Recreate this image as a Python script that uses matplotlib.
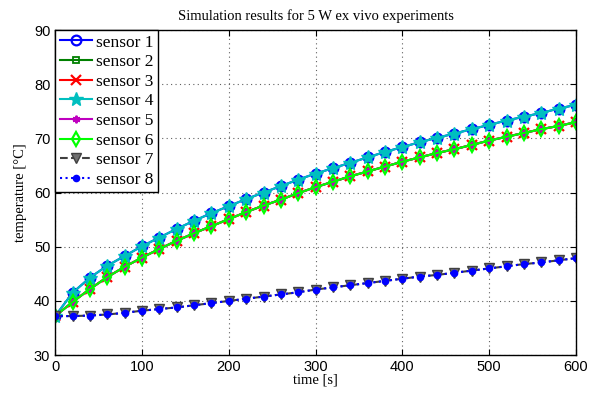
import matplotlib

matplotlib.use("Agg")
import matplotlib.pyplot as plt

time_s = list(range(0, 601, 20))

# upper pair (sensors 1 and 4)
upper = [37.2, 41.5, 44.3, 46.5, 48.3, 50.1, 51.7, 53.3, 54.8, 56.2, 57.5,
         58.8, 60.0, 61.2, 62.4, 63.5, 64.5, 65.5, 66.5, 67.5, 68.4,
         69.3, 70.1, 70.9, 71.7, 72.5, 73.3, 74.0, 74.7, 75.5, 76.2]
# middle group (sensors 2, 3, 5, 6)
middle = [37.2, 39.8, 42.2, 44.4, 46.3, 48.0, 49.6, 51.1, 52.5, 53.8, 55.1,
          56.4, 57.6, 58.7, 59.9, 61.0, 62.0, 63.0, 63.9, 64.8, 65.7,
          66.5, 67.3, 68.0, 68.8, 69.6, 70.3, 71.0, 71.7, 72.3, 73.0]
# lower pair (sensors 7 and 8)
lower = [37.2, 37.2, 37.3, 37.5, 37.8, 38.2, 38.5, 38.8, 39.2, 39.6, 40.0,
         40.4, 40.8, 41.2, 41.6, 42.1, 42.5, 42.9, 43.3, 43.7, 44.1,
         44.5, 44.8, 45.2, 45.6, 46.0, 46.4, 46.8, 47.1, 47.5, 47.9]

sensors = {
    "sensor 1": upper,
    "sensor 2": middle,
    "sensor 3": middle,
    "sensor 4": upper,
    "sensor 5": middle,
    "sensor 6": middle,
    "sensor 7": lower,
    "sensor 8": lower,
}

styles = {
    "sensor 1": dict(color="#0000ff", marker="o", ls="-", mfc="none", ms=7, mew=1.6),
    "sensor 2": dict(color="#008000", marker="s", ls="-", mfc="none", ms=5, mew=1.3),
    "sensor 3": dict(color="#ff0000", marker="x", ls="-", ms=6.5, mew=1.6),
    "sensor 4": dict(color="#00bfbf", marker="*", ls="-", ms=10, mew=1.0),
    "sensor 5": dict(color="#bf00bf", marker=(6, 2, 0), ls="-", ms=5.5, mew=1.4),
    "sensor 6": dict(color="#00ff00", marker="d", ls="-", mfc="none", ms=7, mew=1.6),
    "sensor 7": dict(color="#404040", marker="v", ls="--", mfc="#707070", mec="#404040", ms=7.5, mew=1.0),
    "sensor 8": dict(color="#0000ff", marker="o", ls=":", ms=5.5, mew=0),
}

fig = plt.figure(figsize=(6, 3.95), dpi=100)
ax = fig.add_axes([0.092, 0.101, 0.868, 0.823])

for name, vals in sensors.items():
    st = styles[name]
    ax.plot(time_s, vals, label=name, lw=1.5, **st)

ax.set_xlim(0, 600)
ax.set_ylim(30, 90)
ax.set_xticks(range(0, 601, 100))
ax.set_yticks(range(30, 91, 10))
ax.grid(True, ls=(0, (1, 3)), color="#606060", lw=0.8)
ax.tick_params(direction="in", top=True, right=True, length=4, labelsize=10.5)
for lab in ax.get_xticklabels() + ax.get_yticklabels():
    lab.set_fontfamily("Liberation Sans")
for s in ax.spines.values():
    s.set_linewidth(1.0)

serif = "Liberation Serif"
ax.set_xlabel("time [s]", fontfamily=serif, fontsize=10.5, labelpad=0)
ax.set_ylabel("temperature [°C]", fontfamily=serif, fontsize=10.5, labelpad=5)
ax.set_title("Simulation results for 5 W ex vivo experiments", fontfamily=serif, fontsize=10.5, pad=7)

leg = ax.legend(loc="upper left", prop={"family": serif, "size": 12.5}, fancybox=False,
                framealpha=1, edgecolor="black", borderaxespad=0.0, handlelength=1.85,
                labelspacing=0.2, borderpad=0.25, handletextpad=0.25)
leg.get_frame().set_linewidth(1.0)

fig.savefig("out.png", dpi=100)
